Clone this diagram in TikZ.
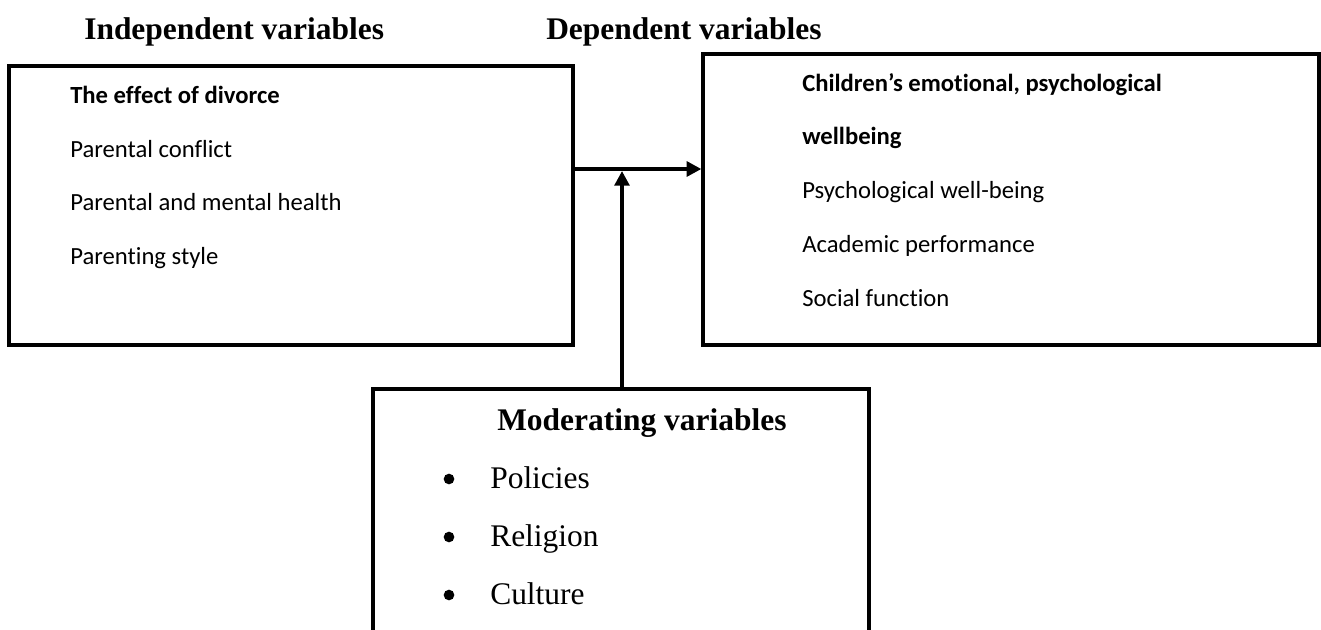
\documentclass[tikz,border=0pt]{standalone}
\usepackage{fontspec}
\setmainfont{Liberation Serif}
\newfontfamily\bodyfont[Ligatures=NoCommon]{Carlito}
\usetikzlibrary{arrows.meta}

\tikzset{
  box/.style={draw, line width=2.4pt, inner sep=0pt},
  head/.style={anchor=base west, inner sep=0pt, font=\fontsize{23.6}{28}\selectfont\bfseries},
  item/.style={anchor=base west, inner sep=0pt, font=\bodyfont\fontsize{18.5}{22}\selectfont},
  mitem/.style={anchor=base west, inner sep=0pt, font=\fontsize{23.6}{28}\selectfont},
  dot/.style={circle, fill, inner sep=0pt, minimum size=8pt},
  link/.style={line width=3pt, -{Triangle[length=11pt,width=11pt]}},
}

\begin{document}
\begin{tikzpicture}[x=0.75pt, y=-0.75pt]
\useasboundingbox (0,0) rectangle (1321,629);
% headings
\node[head] (iv) at (84,39) {Independent variables};
\node[head] (dv) at (546,39) {Dependent variables};
% boxes
\node[box, minimum width=564*0.75pt, minimum height=279*0.75pt] (lbox) at (291,205.5) {};
\node[box, minimum width=616*0.75pt, minimum height=291*0.75pt] (rbox) at (1011,199.5) {};
\node[box, minimum width=496*0.75pt, minimum height=291*0.75pt] (mbox) at (621,534.5) {};
% independent
\node[item, font=\bodyfont\fontsize{18.5}{22}\selectfont\bfseries] (l1) at (70,103) {The effect of divorce};
\node[item] (l2) at (70,157) {Parental conflict};
\node[item] (l3) at (70,210) {Parental and mental health};
\node[item] (l4) at (70,264) {Parenting style};
% dependent
\node[item, font=\bodyfont\fontsize{18.5}{22}\selectfont\bfseries] (r1) at (802,91) {Children’s emotional, psychological};
\node[item, font=\bodyfont\fontsize{18.5}{22}\selectfont\bfseries] (r2) at (802,144) {wellbeing};
\node[item] (r3) at (802,198) {Psychological well-being};
\node[item] (r4) at (802,252) {Academic performance};
\node[item] (r5) at (802,306) {Social function};
% moderating
\node[head] (m0) at (497,430) {Moderating variables};
\node[mitem] (m1) at (490,488) {Policies};
\node[mitem] (m2) at (490,546) {Religion};
\node[mitem] (m3) at (490,604) {Culture};
\foreach \y [count=\i] in {479,537,595}
  \node[dot] (b\i) at (449,\y) {};
% arrows
\coordinate (meet) at (622,169);
\draw[link] (meet -| lbox.east) -- (meet -| rbox.west);
\draw[link] (mbox.north -| meet) -- ([yshift=-1.5pt]meet);
\end{tikzpicture}
\end{document}
